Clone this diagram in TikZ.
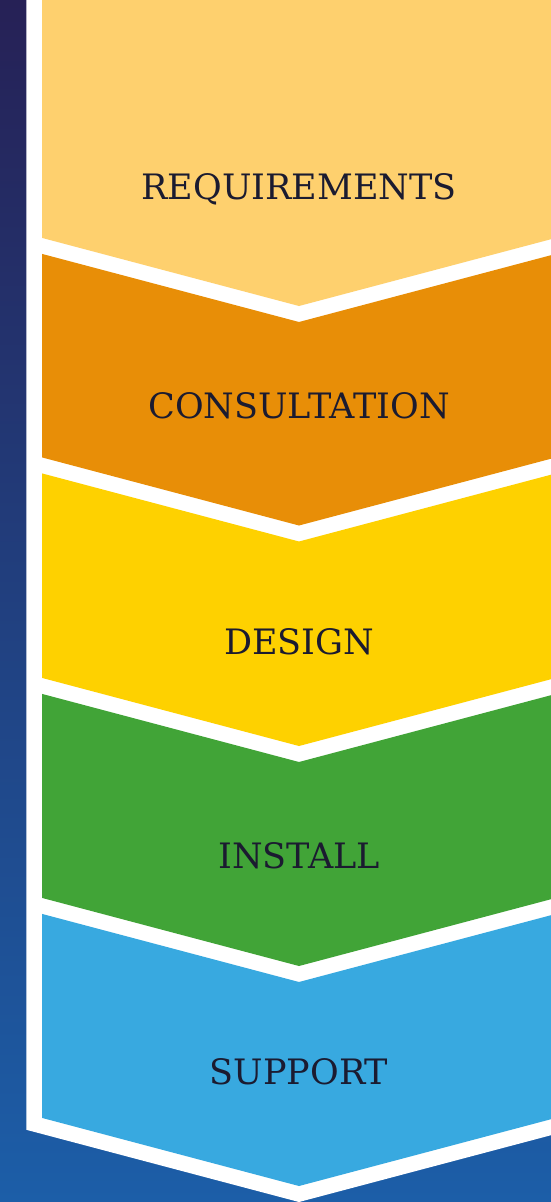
\documentclass[tikz,border=0pt]{standalone}
\usepackage{fontspec}
\newfontfamily\labelfont{DejaVu Serif}
\definecolor{bgtop}{HTML}{262156}
\definecolor{bgmid}{HTML}{2A2E6C}
\definecolor{bgbot}{HTML}{1C5EA8}
\definecolor{secA}{HTML}{FED06E}
\definecolor{secB}{HTML}{E88E07}
\definecolor{secC}{HTML}{FED100}
\definecolor{secD}{HTML}{41A437}
\definecolor{secE}{HTML}{38A9E0}
\definecolor{labeltext}{HTML}{1B1B30}
\tikzset{
  steplabel/.style={font=\labelfont\fontsize{35}{35}\selectfont, text=labeltext, anchor=base, inner sep=0pt},
}
% chevron section: #1 colour, #2 top apex y, #3 bottom apex y
\newcommand{\chevsec}[3]{%
  \fill[#1] (42,#2-68.1) -- (299,#2) -- (551,#2-66.8) -- (551,#3-66.8) -- (299,#3) -- (42,#3-68.1) -- cycle;}
\begin{document}
\begin{tikzpicture}[x=1pt,y=-1pt]
\useasboundingbox (0,0) rectangle (551,1202);
\shade[top color=bgtop, middle color=bgmid, bottom color=bgbot] (0,0) rectangle (551,1202);
% white frame
\fill[white] (26.4,-1) -- (26.4,1129.8) -- (299,1202) -- (551,1135.2) -- (551,-1) -- cycle;
% sections
\fill[secA] (42,-1) -- (42,237.9) -- (299,306) -- (551,239.2) -- (551,-1) -- cycle;
\chevsec{secB}{322}{525.5}
\chevsec{secC}{541.5}{746}
\chevsec{secD}{762}{966}
\chevsec{secE}{982}{1186}
% labels
\node[steplabel] (req) at (299,199.5) {REQUIREMENTS};
\node[steplabel] (con) at (299,418.5) {CONSULTATION};
\node[steplabel] (des) at (299,654.3) {DESIGN};
\node[steplabel] (ins) at (299,868.3) {INSTALL};
\node[steplabel] (sup) at (299,1084.5) {SUPPORT};
\end{tikzpicture}
\end{document}
